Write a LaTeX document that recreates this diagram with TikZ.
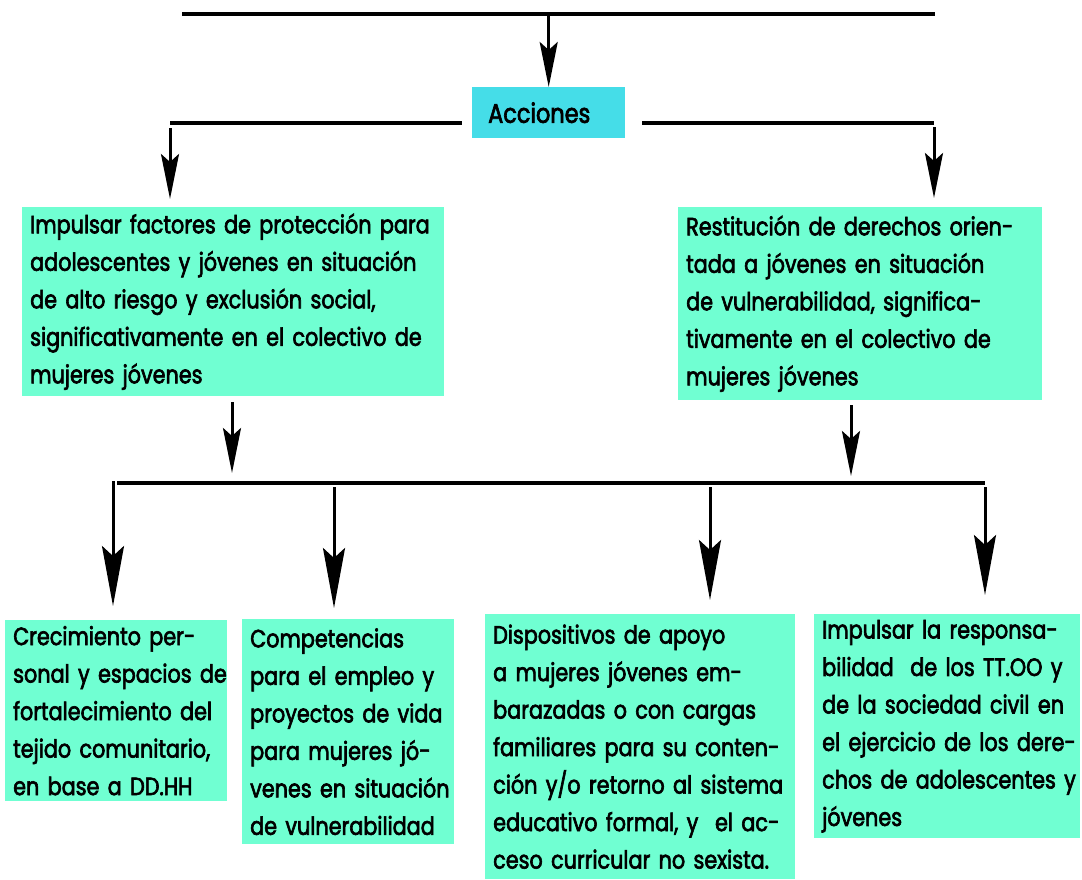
\documentclass[tikz,border=0pt]{standalone}
\usepackage{fontspec}
\setmainfont{Poppins}[FakeStretch=0.83, FakeBold=2.5]
\usetikzlibrary{arrows.meta}
\definecolor{boxgreen}{HTML}{70FFD2}
\definecolor{boxcyan}{HTML}{45DDE8}

\begin{document}
\begin{tikzpicture}[x=1pt, y=-1pt,
    box/.style={fill=boxgreen, anchor=north west, align=left, inner xsep=0pt,
      inner ysep=0pt, font=\fontsize{25}{37.5}\selectfont,
      execute at begin node={\leftskip=8pt\relax}},
    bar/.style={line width=4pt},
    link/.style={-{Stealth[length=45pt,width=18pt,inset=8pt]}, line width=3pt},
    biglink/.style={-{Stealth[length=60pt,width=22pt,inset=10pt]}, line width=3pt}]

  \useasboundingbox (0,0) rectangle (1082,879);

  \node[box, fill=boxcyan, text width=153pt, minimum height=51pt,
    font=\fontsize{27}{37.5}\selectfont, execute at begin node={\leftskip=16pt\relax}] (acc) at (472,87) {Acciones};
  \node[box, text width=422pt, minimum height=189pt] (prot) at (22,207)
    {Impulsar factores de protección para\\adolescentes y jóvenes en situación\\de alto riesgo y exclusión social,\\significativamente en el colectivo de\\mujeres jóvenes};
  \node[box, text width=364pt, minimum height=193pt] (rest) at (678,207)
    {Restitución de derechos orien-\\tada a jóvenes en situación\\de vulnerabilidad, significa-\\tivamente en el colectivo de\\mujeres jóvenes};

  \node[box, text width=222pt, minimum height=181pt] (crec) at (5,620)
    {Crecimiento per-\\sonal y espacios de\\fortalecimiento del\\tejido comunitario,\\en base a DD.HH};
  \node[box, text width=212pt, minimum height=225pt] (comp) at (242,619)
    {Competencias\\para el empleo y\\proyectos de vida\\para mujeres jó-\\venes en situación\\de vulnerabilidad};
  \node[box, text width=310pt, minimum height=265pt] (disp) at (485,614)
    {Dispositivos de apoyo\\a mujeres jóvenes em-\\barazadas o con cargas\\familiares para su conten-\\ción y/o retorno al sistema\\educativo formal, y\ \ el ac-\\ceso curricular no sexista.};
  \node[box, text width=266pt, minimum height=224pt] (resp) at (814,614)
    {Impulsar la responsa-\\bilidad\ \ de los TT.OO y\\de la sociedad civil en\\el ejercicio de los dere-\\chos de adolescentes y\\jóvenes};

  \coordinate (topL) at (182,14);
  \coordinate (topR) at (935,14);
  \coordinate (midL) at (170,123);
  \coordinate (midR) at (934,123);
  \coordinate (lowL) at (117,483);
  \coordinate (lowR) at (985,483);

  \draw[bar] (topL) -- (topR);
  \draw[bar] (midL) -- (midL -| 462,0);
  \draw[bar] (midR -| 642,0) -- (midR);
  \draw[bar] (lowL) -- (lowR);

  \draw[link] (acc.north |- topL) -- (acc.north);
  \draw[link, shorten <=5pt, shorten >=8pt] (midL) -- (midL |- prot.north);
  \draw[link, shorten <=4pt, shorten >=9pt] (midR) -- (midR |- rest.north);
  \draw[link, shorten <=6pt, shorten >=10pt] (232,0 |- prot.south) -- (232,0 |- lowL);
  \draw[link, shorten <=5pt, shorten >=7pt] (851,0 |- rest.south) -- (851,0 |- lowL);

  \draw[biglink, shorten <=-2pt, shorten >=14pt] (113,0 |- lowL) -- (113,0 |- crec.north);
  \draw[biglink, shorten <=4pt, shorten >=11pt] (334,0 |- lowL) -- (334,0 |- comp.north);
  \draw[biglink, shorten <=4pt, shorten >=14pt] (710,0 |- lowL) -- (710,0 |- disp.north);
  \draw[biglink, shorten <=4pt, shorten >=19pt] (lowR) -- (lowR |- resp.north);
\end{tikzpicture}
\end{document}
